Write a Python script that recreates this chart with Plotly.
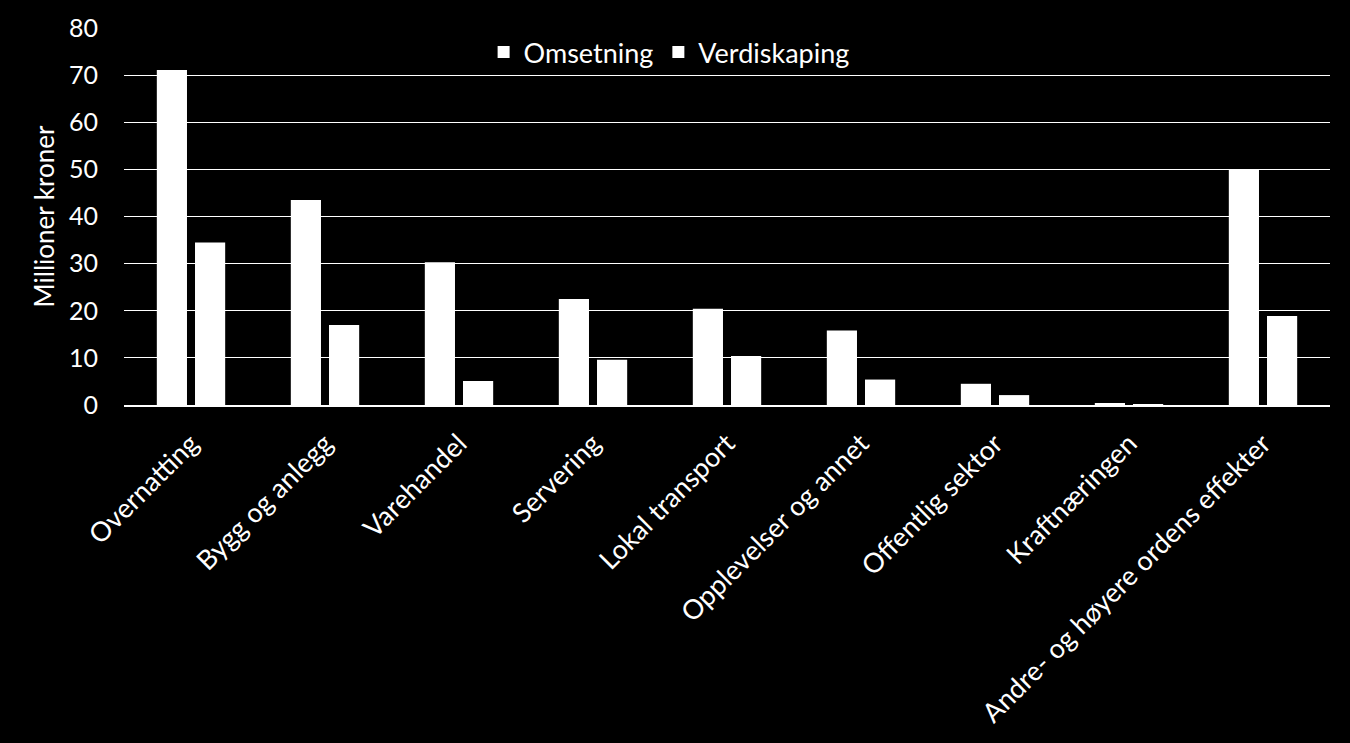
import plotly.graph_objects as go

categories = ["Overnatting", "Bygg og anlegg", "Varehandel", "Servering", "Lokal transport",
              "Opplevelser og annet", "Offentlig sektor", "Kraftnæringen",
              "Andre- og høyere ordens effekter"]
omsetning = [71.1, 43.5, 30.3, 22.5, 20.4, 15.8, 4.5, 0.4, 50.0]
verdiskaping = [34.5, 17.0, 5.1, 9.6, 10.4, 5.4, 2.1, 0.2, 18.9]
yticks = [0, 10, 20, 30, 40, 50, 60, 70, 80]

FONT = "Lato, 'Open Sans', sans-serif"

fig = go.Figure()
fig.add_trace(go.Bar(name="Omsetning", x=categories, y=omsetning,
                     marker=dict(color="white", line=dict(width=0))))
fig.add_trace(go.Bar(name="Verdiskaping", x=categories, y=verdiskaping,
                     marker=dict(color="white", line=dict(width=0))))

fig.update_layout(
    width=1350, height=743,
    paper_bgcolor="black", plot_bgcolor="black",
    margin=dict(l=124, r=20, t=28, b=338),
    barmode="group", bargap=0.43, bargroupgap=0.21,
    font=dict(family=FONT, color="white", size=27),
    showlegend=True,
    legend=dict(orientation="h", x=0.452, xanchor="center", y=1.0, yanchor="top",
                bgcolor="rgba(0,0,0,0)", font=dict(size=27, color="white"),
                itemsizing="constant"),
    xaxis=dict(showgrid=False, showline=True, linecolor="white", linewidth=2,
               tickangle=-45, ticks="", ticklabelstandoff=10,
               tickfont=dict(size=27, color="white")),
    yaxis=dict(range=[0, 80], tickvals=yticks, showgrid=True, gridcolor="white",
               gridwidth=1.3, zeroline=False, showline=False,
               tickfont=dict(size=25, color="white"), ticklabelstandoff=25,
               title=dict(text="Millioner kroner", font=dict(size=26, color="white"), standoff=6)),
)

fig.write_html("out.html", config={"displayModeBar": False},
               post_script="document.body.style.margin='0';document.body.style.background='black';")
